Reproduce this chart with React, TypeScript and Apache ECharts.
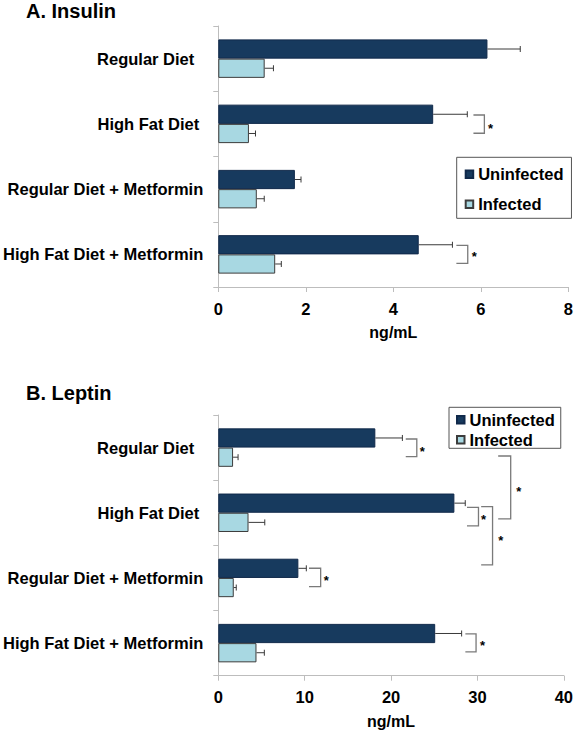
import React, { useEffect, useRef } from "react";
import * as echarts from "echarts";

// ---------- data ----------
const categories = [
  "Regular Diet",
  "High Fat Diet",
  "Regular Diet + Metformin",
  "High Fat Diet + Metformin",
];
const seriesNames = ["Uninfected", "Infected"];

// A. Insulin (ng/mL)
const insulinUninfected = [6.15, 4.91, 1.75, 4.58];
const insulinUninfectedErr = [0.75, 0.78, 0.14, 0.77];
const insulinInfected = [1.06, 0.7, 0.88, 1.3];
const insulinInfectedErr = [0.2, 0.15, 0.17, 0.14];
const insulinTicks = { min: 0, max: 8, interval: 2 };

// B. Leptin (ng/mL)
const leptinUninfected = [18.18, 27.33, 9.27, 25.11];
const leptinUninfectedErr = [3.13, 1.26, 0.92, 3.06];
const leptinInfected = [1.71, 3.5, 1.79, 4.42];
const leptinInfectedErr = [0.58, 1.88, 0.29, 0.91];
const leptinTicks = { min: 0, max: 40, interval: 10 };

// significance brackets: [xLeft, xRight, posTop, posBottom, xStar, posStar]
// pos = position along category axis in band units (0 = top of axis)
const insulinBrackets = [
  [5.83, 6.08, 1.364, 1.644, 6.22, 1.517],
  [5.44, 5.7, 3.361, 3.637, 5.85, 3.479],
];
const leptinBrackets = [
  [21.7, 22.98, 0.368, 0.64, 23.6, 0.511],
  [28.79, 30.12, 1.416, 1.702, 30.7, 1.557],
  [32.4, 33.85, 0.629, 1.595, 34.8, 1.124],
  [30.43, 31.75, 1.407, 2.301, 32.7, 1.867],
  [10.5, 11.85, 2.351, 2.633, 12.5, 2.48],
  [28.6, 29.84, 3.359, 3.635, 30.6, 3.486],
];

// ---------- styles ----------
const FONT = "'Liberation Sans', Arial, Helvetica, sans-serif";
const DARK = "#173A5E";
const LIGHT = "#A8D8E2";
const BAR_FRAC = 0.295;
const labelPad = [9, 4, 0, 0];

function errorSeries(vals: number[], errs: number[], idx: number, side: number) {
  return {
    type: "custom",
    xAxisIndex: idx,
    yAxisIndex: idx,
    silent: true,
    z: 5,
    data: vals.map((v, i) => [v, errs[i], i]),
    encode: { x: [0], y: 2 },
    renderItem: (params: any, api: any) => {
      const v = api.value(0);
      const e = api.value(1);
      const c = api.value(2);
      const p0 = api.coord([v, c]);
      const p1 = api.coord([v + e, c]);
      const band = api.size([0, 1])[1];
      const y = p0[1] + (side * band * BAR_FRAC) / 2;
      const st = { stroke: "#3a3a3a", lineWidth: 1 };
      return {
        type: "group",
        children: [
          { type: "line", shape: { x1: p0[0], y1: y, x2: p1[0], y2: y }, style: st },
          { type: "line", shape: { x1: p1[0], y1: y - 3, x2: p1[0], y2: y + 3 }, style: st },
        ],
      };
    },
  };
}

function bracketSeries(brs: number[][], idx: number) {
  return {
    type: "custom",
    xAxisIndex: idx,
    yAxisIndex: idx,
    silent: true,
    z: 5,
    data: brs.map((b) => [...b, 0]),
    encode: { x: [0, 1, 4], y: 6 },
    renderItem: (params: any, api: any) => {
      const xl = api.value(0);
      const xr = api.value(1);
      const pt = api.value(2);
      const pb = api.value(3);
      const xs = api.value(4);
      const ps = api.value(5);
      const c0 = api.coord([xl, 0]);
      const band = api.size([0, 1])[1];
      const yOf = (p: number) => c0[1] + (p - 0.5) * band;
      const xL = api.coord([xl, 0])[0];
      const xR = api.coord([xr, 0])[0];
      const xS = api.coord([xs, 0])[0];
      const yt = yOf(pt);
      const yb = yOf(pb);
      const st = { stroke: "#7a7a7a", lineWidth: 1.3, fill: "none" };
      return {
        type: "group",
        children: [
          {
            type: "polyline",
            shape: { points: [[xL, yt], [xR, yt], [xR, yb], [xL, yb]] },
            style: st,
          },
          {
            type: "text",
            x: xS,
            y: yOf(ps) + 3.5,
            style: {
              text: "*",
              fill: "#000",
              fontSize: 13,
              fontWeight: "bold",
              fontFamily: FONT,
              align: "center",
              verticalAlign: "middle",
            },
          },
        ],
      };
    },
  };
}

function axes(idx: number, ticks: { min: number; max: number; interval: number }, nameGap: number) {
  const x = {
    type: "value",
    gridIndex: idx,
    min: ticks.min,
    max: ticks.max,
    interval: ticks.interval,
    name: "ng/mL",
    nameLocation: "middle",
    nameGap,
    nameTextStyle: { fontSize: 16, fontWeight: "bold", color: "#000", fontFamily: FONT },
    axisLine: { show: true, lineStyle: { color: "#bdbdbd", width: 1 } },
    axisTick: { show: true, length: 5, lineStyle: { color: "#bdbdbd" } },
    axisLabel: { fontSize: 16.5, fontWeight: "bold", color: "#000", fontFamily: FONT, margin: 13 },
    splitLine: { show: false },
  };
  const y = {
    type: "category",
    gridIndex: idx,
    data: categories,
    inverse: true,
    axisLine: { show: true, lineStyle: { color: "#bdbdbd", width: 1 } },
    axisTick: { show: true, length: 5, lineStyle: { color: "#bdbdbd" } },
    axisLabel: {
      margin: 15,
      color: "#000",
      fontFamily: FONT,
      fontSize: 16.5,
      fontWeight: "bold",
      formatter: (v: string) => {
        const i = categories.indexOf(v);
        return `{p${labelPad[i]}|${v}}`;
      },
      rich: Object.fromEntries(
        labelPad.map((p) => [
          `p${p}`,
          { padding: [0, p, 0, 0], fontSize: 16.5, fontWeight: "bold", color: "#000", fontFamily: FONT },
        ])
      ),
    },
  };
  return { x, y };
}

function barSeries(name: string, vals: number[], idx: number, color: string, border: string) {
  return {
    type: "bar",
    name,
    xAxisIndex: idx,
    yAxisIndex: idx,
    data: vals,
    barWidth: `${BAR_FRAC * 100}%`,
    barGap: "0%",
    itemStyle: { color, borderColor: border, borderWidth: 1 },
  };
}

function legend(left: number, top: number, padding: number[], itemGap: number, lineHeight: number) {
  return {
    data: seriesNames,
    orient: "vertical",
    left,
    top,
    padding,
    itemGap,
    itemWidth: 7.5,
    itemHeight: 7.5,
    icon: "rect",
    selectedMode: false,
    borderColor: "#555",
    borderWidth: 1,
    textStyle: { fontSize: 16.5, fontWeight: "bold", color: "#000", fontFamily: FONT, lineHeight },
  };
}

export default function App() {
  const ref = useRef<HTMLDivElement>(null);
  useEffect(() => {
    document.body.style.margin = "0";
    if (!ref.current) return;
    const chart = echarts.init(ref.current, null, { renderer: "svg" });
    const a0 = axes(0, insulinTicks, 37);
    const a1 = axes(1, leptinTicks, 38);
    chart.setOption({
      animation: false,
      backgroundColor: "#fff",
      title: [
        {
          text: "A. Insulin",
          left: 26,
          top: 1,
          padding: 0,
          textStyle: { fontSize: 20, fontWeight: "bold", color: "#000", fontFamily: FONT },
        },
        {
          text: "B. Leptin",
          left: 26,
          top: 383,
          padding: 0,
          textStyle: { fontSize: 20, fontWeight: "bold", color: "#000", fontFamily: FONT },
        },
      ],
      legend: [legend(456.7, 157.3, [7, 8, 4, 8], 10, 20), legend(449, 407.3, [4, 6, 0, 7], 3, 17)],
      grid: [
        { left: 217.3, right: 7.6, top: 26, height: 261 },
        { left: 215.5, right: 9.3, top: 415, height: 260.7 },
      ],
      xAxis: [a0.x, a1.x],
      yAxis: [a0.y, a1.y],
      series: [
        barSeries(seriesNames[0], insulinUninfected, 0, DARK, "#10294a"),
        barSeries(seriesNames[1], insulinInfected, 0, LIGHT, "#3c3c3c"),
        errorSeries(insulinUninfected, insulinUninfectedErr, 0, -1),
        errorSeries(insulinInfected, insulinInfectedErr, 0, 1),
        bracketSeries(insulinBrackets, 0),
        barSeries(seriesNames[0], leptinUninfected, 1, DARK, "#10294a"),
        barSeries(seriesNames[1], leptinInfected, 1, LIGHT, "#3c3c3c"),
        errorSeries(leptinUninfected, leptinUninfectedErr, 1, -1),
        errorSeries(leptinInfected, leptinInfectedErr, 1, 1),
        bracketSeries(leptinBrackets, 1),
      ],
    });
    return () => chart.dispose();
  }, []);
  return <div ref={ref} style={{ width: 576, height: 736 }} />;
}
